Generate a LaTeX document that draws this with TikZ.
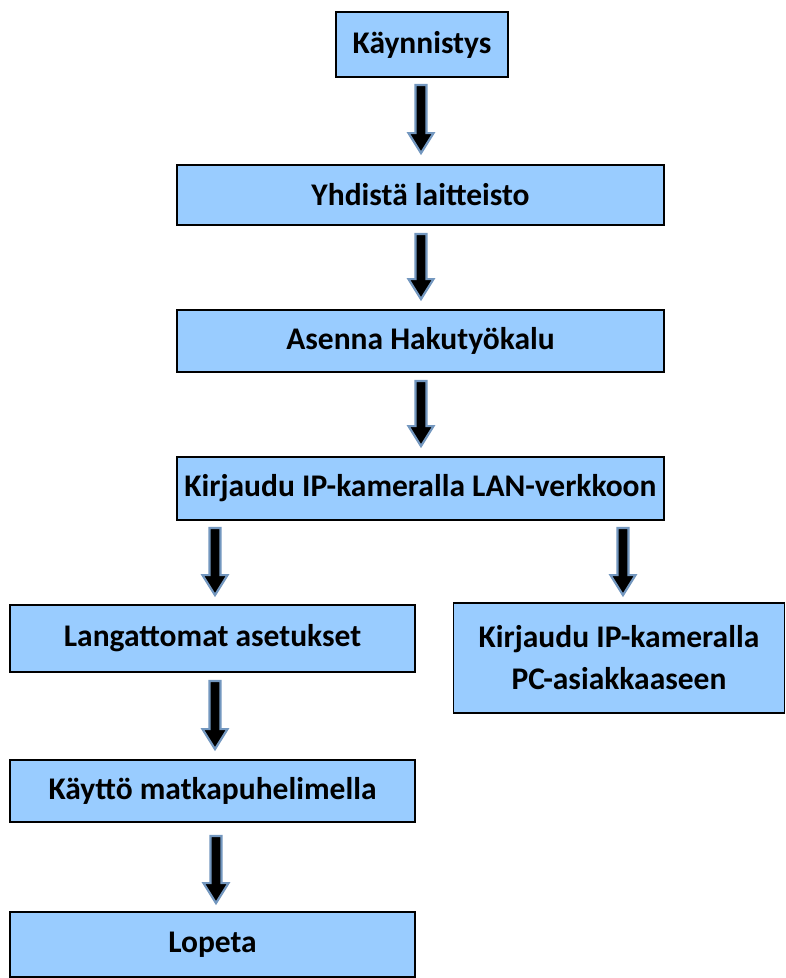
\documentclass[tikz,border=0pt]{standalone}
\usepackage{fontspec}
\setmainfont{Carlito}
\usetikzlibrary{calc}
\definecolor{boxblue}{HTML}{99CCFF}
\definecolor{arrowblue}{HTML}{7397BF}
\tikzset{
  stepbox/.style={draw=black, line width=1.8pt, fill=boxblue, inner sep=0pt,
    font=\bfseries\fontsize{31.5}{42}\selectfont, align=center},
  blockarr/.style={draw=arrowblue, line width=2.2pt, fill=black, line join=miter,
    to path={let \p1=(\tikztostart), \p2=(\tikztotarget) in
      (\x1-5.5pt,\y1) -- (\x1-5.5pt,\y2+20pt) -- (\x1-12.5pt,\y2+20pt) -- (\x1,\y2)
      -- (\x1+12.5pt,\y2+20pt) -- (\x1+5.5pt,\y2+20pt) -- (\x1+5.5pt,\y1) -- cycle}}
}
\begin{document}
\begin{tikzpicture}[x=1pt,y=-1pt]
\useasboundingbox (0,0) rectangle (786,978);
\node[stepbox, minimum width=172pt, minimum height=65pt] (n1) at (422,44.5) {Käynnistys};
\node[stepbox, minimum width=487pt, minimum height=60pt] (n2) at (420.5,195) {Yhdistä laitteisto};
\node[stepbox, minimum width=487pt, minimum height=62pt] (n3) at (420.5,341) {Asenna Hakutyökalu};
\node[stepbox, minimum width=487pt, minimum height=63pt] (n4) at (420.5,488.5) {Kirjaudu IP-kameralla LAN-verkkoon};
\node[stepbox, minimum width=405pt, minimum height=67pt] (n5) at (212.5,638.5) {Langattomat asetukset};
\node[stepbox, minimum width=331pt, minimum height=110pt] (n6) at (619,658) {Kirjaudu IP-kameralla\\PC-asiakkaaseen};
\node[stepbox, minimum width=405pt, minimum height=62pt] (n7) at (212.5,791) {Käyttö matkapuhelimella};
\node[stepbox, minimum width=405pt, minimum height=65pt] (n8) at (212.5,944.5) {Lopeta};
\path[blockarr] ([shift={(-1pt,-7pt)}]n1.south) to ([shift={(-1pt,11pt)}]n2.north);
\path[blockarr] ([shift={(0.5pt,-8pt)}]n2.south) to ([shift={(0.5pt,10pt)}]n3.north);
\path[blockarr] ([shift={(0.5pt,-8pt)}]n3.south) to ([shift={(0.5pt,10pt)}]n4.north);
\path[blockarr] ([shift={(2.5pt,-7pt)}]n4.south -| n5.north) to ([shift={(2.5pt,9pt)}]n5.north);
\path[blockarr] ([shift={(4pt,-7pt)}]n4.south -| n6.north) to ([shift={(4pt,7pt)}]n6.north);
\path[blockarr] ([shift={(2.5pt,-8pt)}]n5.south) to ([shift={(2.5pt,10pt)}]n7.north);
\path[blockarr] ([shift={(3.5pt,-13pt)}]n7.south) to ([shift={(3.5pt,8pt)}]n8.north);
\end{tikzpicture}
\end{document}
